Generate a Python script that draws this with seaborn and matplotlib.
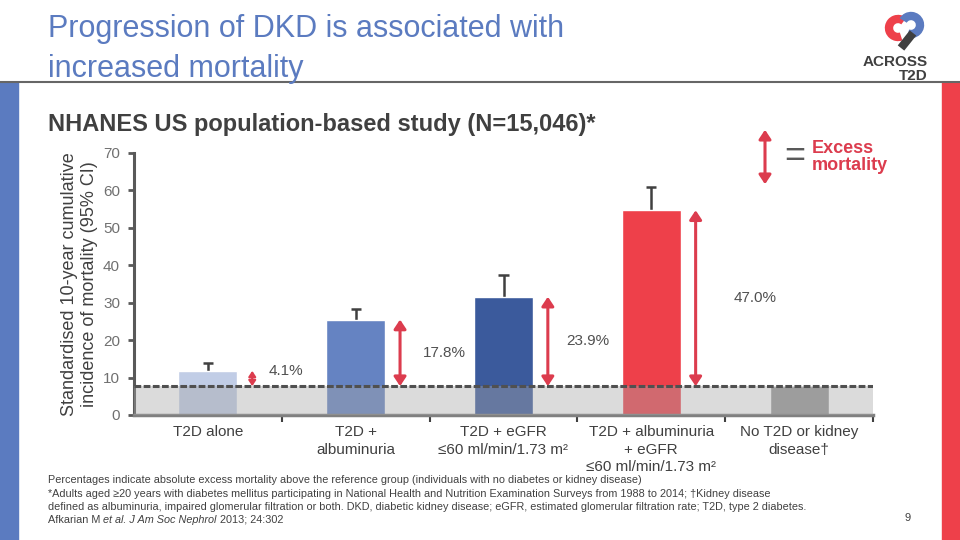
import matplotlib
matplotlib.use("Agg")
import matplotlib.pyplot as plt
import matplotlib.patches as mpatches
import seaborn as sns
import pandas as pd

# data
categories = ["T2D alone", "T2D +\nalbuminuria", "T2D + eGFR\n≤60 ml/min/1.73 m²",
              "T2D + albuminuria\n+ eGFR\n≤60 ml/min/1.73 m²", "No T2D or kidney\ndisease\u2020"]
mortality = [11.8, 25.5, 31.6, 54.7, 7.7]
ci_upper = [13.9, 28.3, 37.4, 60.9]
excess_labels = ["4.1%", "17.8%", "23.9%", "47.0%"]
reference = 7.7
bar_colors = ["#c1cde6", "#6583c2", "#3b5a9c", "#ee404a", "#989898"]
label_dx = [0.53, 0.6, 0.57, 0.7]

sns.set_style("white")
plt.rcParams["font.family"] = ["Liberation Sans", "DejaVu Sans"]

GREY = "#595959"
RED = "#dc3c4e"
BLUE = "#5b7bc0"
ARROW = "<|-|>,head_length=0.45,head_width=0.3"

fig = plt.figure(figsize=(9.6, 5.4), dpi=100)
ax = fig.add_axes([134 / 960, 1 - 415 / 540, 739 / 960, 262 / 540])

df = pd.DataFrame({"group": categories, "mortality": mortality})
sns.barplot(data=df, x="group", y="mortality", hue="group", palette=bar_colors,
            legend=False, width=0.4, ax=ax, zorder=2, saturation=1)

# upper CI whiskers only
for i, (v, hi) in enumerate(zip(mortality, ci_upper)):
    ax.vlines(i, v, hi, color="#404040", lw=1.8, zorder=1)
    ax.hlines(hi, i - 0.035, i + 0.035, color="#404040", lw=1.8, zorder=1)

# grey reference band over everything below the no-diabetes level
ax.axhspan(0, reference, color="#a7a7a7", alpha=0.4, zorder=3, lw=0)
ax.axhline(reference, color="#505050", lw=2.2, ls=(0, (2.2, 0.8)), zorder=4)

# excess mortality arrows and labels
for i, (v, lab) in enumerate(zip(mortality, excess_labels)):
    scale = 12 if v - reference > 10 else 7
    ax.annotate("", xy=(i + 0.3, v), xytext=(i + 0.3, reference),
                arrowprops=dict(arrowstyle=ARROW, color=RED, lw=2.2 if scale > 10 else 1.6,
                                mutation_scale=scale, shrinkA=0, shrinkB=0), zorder=5)
    ly = (reference + v) / 2 if v - reference > 10 else v
    ax.text(i + label_dx[i], ly, lab, ha="center", va="center", fontsize=11, color="#505050")

ax.set_xlim(-0.5, 4.5)
ax.set_ylim(0, 70)
ax.set_yticks(range(0, 71, 10))
ax.tick_params(axis="y", labelsize=11, colors=GREY, length=4, width=2, direction="out",
               left=True, pad=6)
for t in ax.get_yticklabels():
    t.set_color("#707070")
ax.set_xticks(range(len(categories)))
ax.set_xticklabels(categories, fontsize=11, color="#404040", va="top", linespacing=1.35)
ax.tick_params(axis="x", length=0, pad=7)
ax.set_xticks([0.5, 1.5, 2.5, 3.5, 4.5], minor=True)
ax.tick_params(axis="x", which="minor", length=5, width=1.5, color="#404040", direction="out",
               bottom=True)
ax.set_xlabel("")
ax.set_ylabel("Standardised 10-year cumulative\nincidence of mortality (95% CI)",
              fontsize=13, color="#404040", labelpad=4, linespacing=1.2)
for s in ["top", "right"]:
    ax.spines[s].set_visible(False)
ax.spines["left"].set_color(GREY)
ax.spines["left"].set_linewidth(2.2)
ax.spines["bottom"].set_color("#808080")
ax.spines["bottom"].set_linewidth(2.5)

# slide furniture
fig.patches.append(mpatches.Rectangle((0, 0), 18 / 960, 1 - 82 / 540, color=BLUE,
                                      transform=fig.transFigure, zorder=0))
fig.patches.append(mpatches.Rectangle((942 / 960, 0), 18 / 960, 1 - 82 / 540, color="#ee404a",
                                      transform=fig.transFigure, zorder=0))
fig.add_artist(plt.Line2D([0, 1], [1 - 82 / 540] * 2, color="#666666", lw=1.5))

fig.text(48 / 960, 1 - 49 / 540, "Progression of DKD is associated with\nincreased mortality",
         fontsize=22, color="#5b7bc0", va="center", ha="left", linespacing=1.4)
fig.text(48 / 960, 1 - 125 / 540, "NHANES US population-based study (N=15,046)*",
         fontsize=17, fontweight="bold", color="#404040", va="center", ha="left")

# legend
fig.add_artist(mpatches.FancyArrowPatch((765 / 960, 1 - 187 / 540), (765 / 960, 1 - 127 / 540),
                                        arrowstyle=ARROW, mutation_scale=12, color=RED, lw=2.2,
                                        transform=fig.transFigure))
fig.text(795 / 960, 1 - 156 / 540, "=", fontsize=26, color=GREY, ha="center", va="center")
fig.text(812 / 960, 1 - 157 / 540, "Excess\nmortality", fontsize=13, fontweight="bold",
         color=RED, ha="left", va="center", linespacing=1.05)

# logo
lax = fig.add_axes([880 / 960, 1 - 54 / 540, 50 / 960, 44 / 540])
lax.set_xlim(0, 50)
lax.set_ylim(0, 44)
lax.axis("off")
lax.add_patch(mpatches.Arc((18, 26), 18, 18, theta1=50, theta2=290, color="#ee404a", lw=6))
lax.add_patch(mpatches.Arc((31, 29), 18, 18, theta1=-110, theta2=150, color=BLUE, lw=6))
lax.plot([33, 21], [21, 6], color="#404040", lw=6, solid_capstyle="butt")
fig.text(928 / 960, 1 - 62 / 540, "ACROSS", fontsize=11, fontweight="bold", color="#404040",
         ha="right", va="center")
fig.text(928 / 960, 1 - 76 / 540, "T2D", fontsize=11, fontweight="bold", color="#404040",
         ha="right", va="center")

# footnotes
fs = 7.8
fig.text(48 / 960, 1 - 480 / 540,
         "Percentages indicate absolute excess mortality above the reference group "
         "(individuals with no diabetes or kidney disease)", fontsize=fs, color="#404040",
         va="center")
fig.text(48 / 960, 1 - 494 / 540,
         "*Adults aged \u226520 years with diabetes mellitus participating in National Health and "
         "Nutrition Examination Surveys from 1988 to 2014; \u2020Kidney disease", fontsize=fs,
         color="#404040", va="center")
fig.text(48 / 960, 1 - 507 / 540,
         "defined as albuminuria, impaired glomerular filtration or both. DKD, diabetic kidney disease; "
         "eGFR, estimated glomerular filtration rate; T2D, type 2 diabetes.", fontsize=fs,
         color="#404040", va="center")
t1 = fig.text(48 / 960, 1 - 520 / 540, "Afkarian M ", fontsize=fs, color="#404040", va="center")
t2 = fig.text(0, 0, "et al. J Am Soc Nephrol ", fontsize=fs, color="#404040", style="italic",
              va="center")
t3 = fig.text(0, 0, "2013; 24:302", fontsize=fs, color="#404040", va="center")
fig.canvas.draw()
r = fig.canvas.get_renderer()
bb = t1.get_window_extent(r)
t2.set_position((bb.x1 / fig.bbox.width, 1 - 520 / 540))
bb = t2.get_window_extent(r)
t3.set_position((bb.x1 / fig.bbox.width, 1 - 520 / 540))
fig.text(908 / 960, 1 - 518 / 540, "9", fontsize=8, color="#404040", ha="center", va="center")

fig.savefig("out.png", dpi=100)
